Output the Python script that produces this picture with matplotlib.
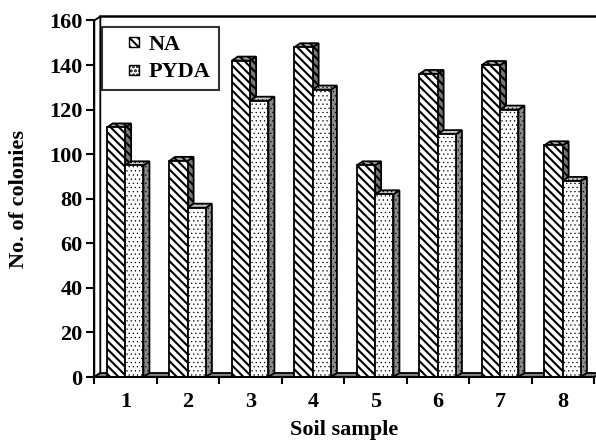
import matplotlib
matplotlib.use("Agg")
import matplotlib.pyplot as plt
import matplotlib.patches as mpatches
from matplotlib.legend_handler import HandlerPatch
import numpy as np

samples = ['1', '2', '3', '4', '5', '6', '7', '8']
na = [112, 97, 142, 148, 95, 136, 140, 104]
pyda = [95, 76, 124, 129, 82, 109, 120, 88]

plt.rcParams['font.family'] = ['Liberation Serif', 'DejaVu Serif']
plt.rcParams['font.weight'] = 'bold'
plt.rcParams['hatch.linewidth'] = 1.5
plt.rcParams['hatch.color'] = 'black'

FS = 16
W, H = 596, 444
fig = plt.figure(figsize=(W / 100, H / 100), dpi=100)
ax = fig.add_axes([94.3 / W, (H - 377) / H, 500 / W, (377 - 20.5) / H])
ax.set_xlim(0.5, 8.5)
ax.set_ylim(0, 160)

dx, dy = 0.096, 1.8      # depth of the fake 3D
bw = 0.293               # bar width
x = np.arange(1, len(samples) + 1)
NA_HATCH = '\\\\\\\\'
PY_HATCH = '....'


def bar3d(x0, h, front, side, top, hatch, hlw):
    w = bw
    with plt.rc_context({'hatch.linewidth': hlw}):
        ax.add_patch(mpatches.Polygon([(x0 + w, 0), (x0 + w + dx, dy), (x0 + w + dx, h + dy), (x0 + w, h)],
                                      closed=True, facecolor=side, edgecolor='black', lw=1.3, hatch=hatch, zorder=3))
        ax.add_patch(mpatches.Polygon([(x0, h), (x0 + dx, h + dy), (x0 + w + dx, h + dy), (x0 + w, h)],
                                      closed=True, facecolor=top, edgecolor='black', lw=1.3, hatch=hatch, zorder=3))
        ax.add_patch(mpatches.Rectangle((x0, 0), w, h, facecolor=front, edgecolor='black',
                                        lw=1.3, hatch=hatch, zorder=3))


# left wall, back wall top edge and floor
ax.add_patch(mpatches.Polygon([(0.5, 0), (0.5 + dx, dy), (0.5 + dx, 160 + dy), (0.5, 160)],
                              closed=True, facecolor='white', edgecolor='black', lw=1.3, zorder=2, clip_on=False))
ax.plot([0.5 + dx, 8.5 + dx], [160 + dy, 160 + dy], color='black', lw=1.8, clip_on=False, zorder=2)
ax.add_patch(mpatches.Polygon([(0.5, 0), (0.5 + dx, dy), (8.5 + dx, dy), (8.5, 0)],
                              closed=True, facecolor='#808080', edgecolor='black', lw=1.3, zorder=2, clip_on=False))

for xi, a, b in zip(x, na, pyda):
    bar3d(xi - 0.30, a, 'white', '#777777', '#a0a0a0', NA_HATCH, 1.5)
    bar3d(xi - 0.30 + bw, b, 'white', '#8a8a8a', '#c8c8c8', PY_HATCH, 0.4)

for s in ['top', 'right']:
    ax.spines[s].set_visible(False)
for s in ['left', 'bottom']:
    ax.spines[s].set_linewidth(1.5)
    ax.spines[s].set_zorder(5)

ax.set_yticks(np.arange(0, 161, 20))
ax.tick_params(axis='y', direction='out', length=5.5, width=1.5, labelsize=FS, pad=3)
ax.set_xticks(np.arange(0.5, 8.6, 1.0))
ax.set_xticklabels([])
ax.set_xticks(x, minor=True)
ax.set_xticklabels(samples, minor=True)
ax.tick_params(axis='x', which='major', direction='out', length=5, width=1.5)
ax.tick_params(axis='x', which='minor', length=0, labelsize=FS, pad=11)

fig.text(344 / W, 1 - 430 / H, 'Soil sample', fontsize=FS, fontweight='bold', ha='center', va='center')
fig.text(19 / W, 1 - 199 / H, 'No. of colonies', fontsize=FS, fontweight='bold', ha='center', va='center',
         rotation=90)


def small_box(legend, orig_handle, xdescent, ydescent, width, height, fontsize):
    s = 10 * 72 / fig.dpi  # ~10 px square
    return mpatches.Rectangle((-xdescent + width - s, -ydescent + (height - s) / 2), s, s)


h1 = mpatches.Patch(facecolor='white', edgecolor='black', lw=1.0, hatch=NA_HATCH, label='NA')
with plt.rc_context({'hatch.linewidth': 0.4}):
    h2 = mpatches.Patch(facecolor='white', edgecolor='black', lw=1.0, hatch=PY_HATCH, label='PYDA')
leg = ax.legend(handles=[h1, h2], loc='upper left', bbox_to_anchor=(0.016, 0.982),
                fontsize=FS, frameon=True, fancybox=False, handlelength=1.3, handleheight=0.7,
                handletextpad=0.45, borderpad=0.35, labelspacing=0.3, borderaxespad=0,
                handler_map={mpatches.Patch: HandlerPatch(patch_func=small_box)})
leg.get_frame().set_edgecolor('black')
leg.get_frame().set_linewidth(1.5)
leg.set_zorder(6)

fig.savefig('out.png', dpi=100)
